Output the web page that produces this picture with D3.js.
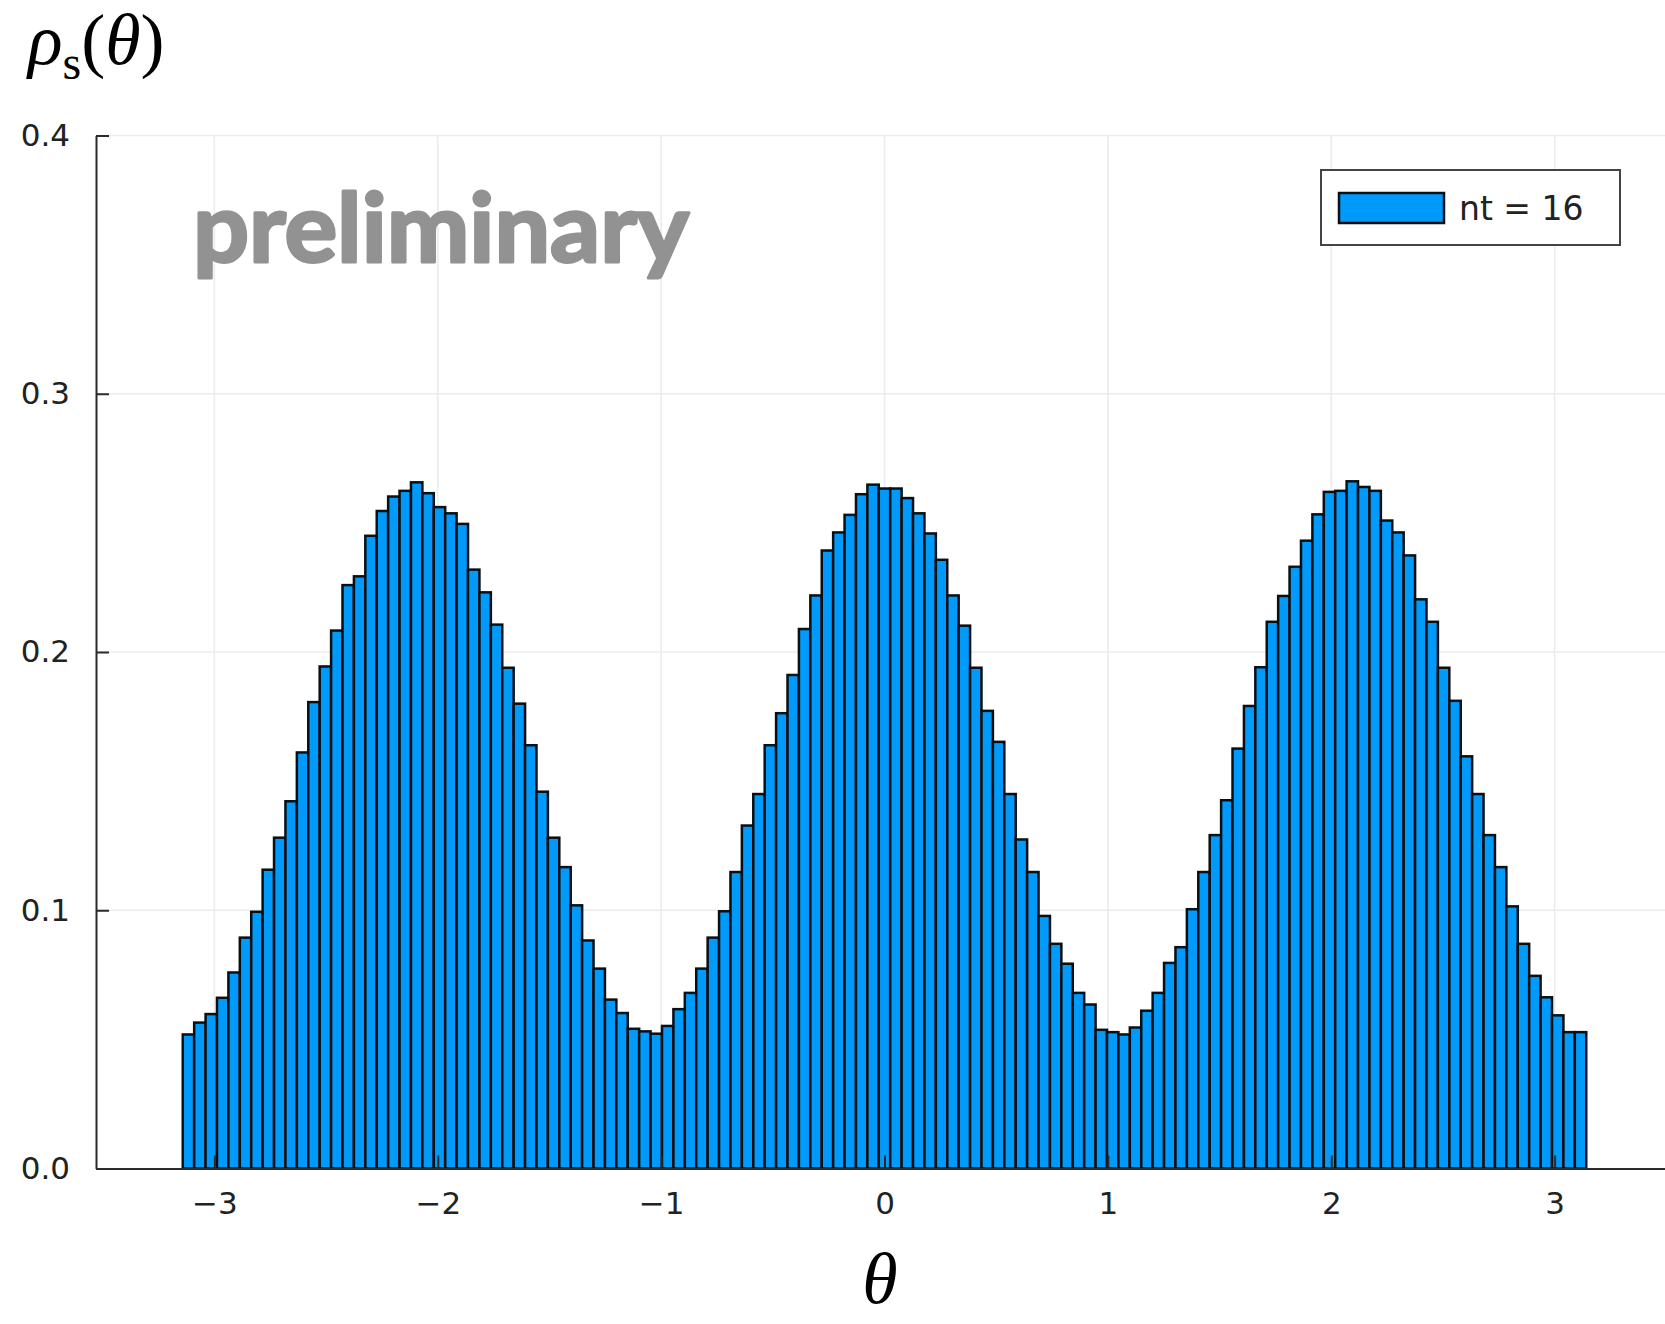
<!DOCTYPE html>
<meta charset="utf-8">
<script src="https://d3js.org/d3.v7.min.js"></script>
<style>
body { margin: 0; background: #fff; }
.tick text { font-family: "DejaVu Sans", sans-serif; fill: #222; }
</style>
<div id="chart"></div>
<script>
// histogram heights, one per bin, theta from -pi to pi
var rhoValues = [
  0.0519, 0.0565, 0.0598, 0.0661, 0.0759, 0.0894, 0.0994, 0.1157, 0.1281, 0.1422,
  0.1611, 0.1806, 0.1944, 0.2083, 0.2259, 0.2293, 0.2450, 0.2546, 0.2602, 0.2624,
  0.2657, 0.2615, 0.2561, 0.2537, 0.2496, 0.2319, 0.2231, 0.2106, 0.1939, 0.1800,
  0.1639, 0.1459, 0.1281, 0.1167, 0.1019, 0.0883, 0.0774, 0.0654, 0.0602, 0.0541,
  0.0531, 0.0522, 0.0552, 0.0617, 0.0680, 0.0774, 0.0894, 0.0996, 0.1148, 0.1328,
  0.1450, 0.1639, 0.1763, 0.1911, 0.2089, 0.2219, 0.2393, 0.2463, 0.2531, 0.2611,
  0.2648, 0.2633, 0.2633, 0.2596, 0.2537, 0.2459, 0.2357, 0.2219, 0.2102, 0.1939,
  0.1772, 0.1652, 0.1450, 0.1274, 0.1148, 0.0978, 0.0870, 0.0793, 0.0680, 0.0635,
  0.0537, 0.0528, 0.0519, 0.0546, 0.0611, 0.0680, 0.0796, 0.0857, 0.1004, 0.1148,
  0.1291, 0.1426, 0.1626, 0.1791, 0.1941, 0.2117, 0.2217, 0.2330, 0.2431, 0.2533,
  0.2620, 0.2624, 0.2661, 0.2639, 0.2624, 0.2509, 0.2463, 0.2374, 0.2204, 0.2117,
  0.1939, 0.1811, 0.1596, 0.1450, 0.1291, 0.1167, 0.1015, 0.0870, 0.0746, 0.0663,
  0.0593, 0.0528, 0.0528
];
var thetaRange = [-Math.PI, Math.PI];
var xTicks = [-3, -2, -1, 0, 1, 2, 3];
var yTicks = [0, 0.1, 0.2, 0.3, 0.4];
var legendLabel = "nt = 16";
var watermark = "preliminary";

var W = 1665, H = 1324;
var plot = {left: 96, right: 1673, top: 135.5, bottom: 1168.5};

var svg = d3.select("#chart")
  .append("svg")
    .attr("width", W)
    .attr("height", H);

var x = d3.scaleLinear()
  .domain([-3.53, 3.53])
  .range([plot.left, plot.right]);

var y = d3.scaleLinear()
  .domain([0, 0.4])
  .range([plot.bottom, plot.top]);

// grid
svg.append("g")
  .selectAll("line")
  .data(xTicks)
  .enter().append("line")
    .attr("x1", function(d) { return x(d); })
    .attr("x2", function(d) { return x(d); })
    .attr("y1", plot.top)
    .attr("y2", plot.bottom)
    .attr("stroke", "#ececec")
    .attr("stroke-width", 1.6);

svg.append("g")
  .selectAll("line")
  .data(yTicks.slice(1))
  .enter().append("line")
    .attr("x1", plot.left)
    .attr("x2", W)
    .attr("y1", function(d) { return y(d); })
    .attr("y2", function(d) { return y(d); })
    .attr("stroke", "#ececec")
    .attr("stroke-width", 1.6);

// bars
var binWidth = (thetaRange[1] - thetaRange[0]) / rhoValues.length;
var bins = rhoValues.map(function(v, i) {
  return {x0: thetaRange[0] + i * binWidth, x1: thetaRange[0] + (i + 1) * binWidth, v: v};
});

svg.append("g")
  .selectAll("rect")
  .data(bins)
  .enter().append("rect")
    .attr("x", function(d) { return x(d.x0); })
    .attr("width", function(d) { return x(d.x1) - x(d.x0); })
    .attr("y", function(d) { return y(d.v); })
    .attr("height", function(d) { return y(0) - y(d.v); })
    .attr("fill", "#009afa")
    .attr("stroke", "#0a0f14")
    .attr("stroke-width", 2.5);

// axes
var xAxis = svg.append("g")
  .attr("transform", "translate(0," + plot.bottom + ")")
  .call(d3.axisBottom(x).tickValues(xTicks).tickFormat(d3.format("d"))
    .tickSizeInner(-13).tickSizeOuter(0).tickPadding(23));

var yAxis = svg.append("g")
  .attr("transform", "translate(" + plot.left + ",0)")
  .call(d3.axisLeft(y).tickValues(yTicks).tickFormat(d3.format(".1f"))
    .tickSizeInner(-13).tickSizeOuter(0).tickPadding(26));

[xAxis, yAxis].forEach(function(a) {
  a.selectAll("path, line").attr("stroke", "#2a2a2a").attr("stroke-width", 2);
  a.selectAll("text").style("font-size", "31px");
});

// watermark
svg.append("text")
  .attr("x", 193)
  .attr("y", 262)
  .attr("font-family", "Lato, sans-serif")
  .attr("font-weight", "bold")
  .attr("font-size", 96)
  .attr("fill", "#929292")
  .attr("stroke", "#929292")
  .attr("stroke-width", 3)
  .attr("stroke-linejoin", "round")
  .attr("textLength", 496)
  .attr("lengthAdjust", "spacingAndGlyphs")
  .text(watermark);

// legend
var legend = svg.append("g");
legend.append("rect")
  .attr("x", 1321).attr("y", 170)
  .attr("width", 299).attr("height", 75)
  .attr("fill", "#fff")
  .attr("stroke", "#444")
  .attr("stroke-width", 2);
legend.append("rect")
  .attr("x", 1339).attr("y", 193)
  .attr("width", 105).attr("height", 30)
  .attr("fill", "#009afa")
  .attr("stroke", "#0a0f14")
  .attr("stroke-width", 2.5);
legend.append("text")
  .attr("x", 1459).attr("y", 220)
  .attr("font-family", "DejaVu Sans, sans-serif")
  .attr("font-size", 33)
  .attr("fill", "#222")
  .text(legendLabel);

// y label rho_s(theta)
var yl = svg.append("text")
  .attr("x", 28).attr("y", 64)
  .attr("font-family", "Liberation Serif, serif")
  .attr("font-size", 72)
  .attr("fill", "#000");
yl.append("tspan").attr("font-style", "italic").text("ρ");
yl.append("tspan").attr("font-size", 48).attr("dy", 15).text("s");
yl.append("tspan").attr("dy", -15).text("(");
yl.append("tspan").attr("font-style", "italic").text("θ");
yl.append("tspan").text(")");

// x label
svg.append("text")
  .attr("x", 880).attr("y", 1303)
  .attr("text-anchor", "middle")
  .attr("font-family", "Liberation Serif, serif")
  .attr("font-style", "italic")
  .attr("font-size", 72)
  .attr("fill", "#000")
  .text("θ");
</script>
